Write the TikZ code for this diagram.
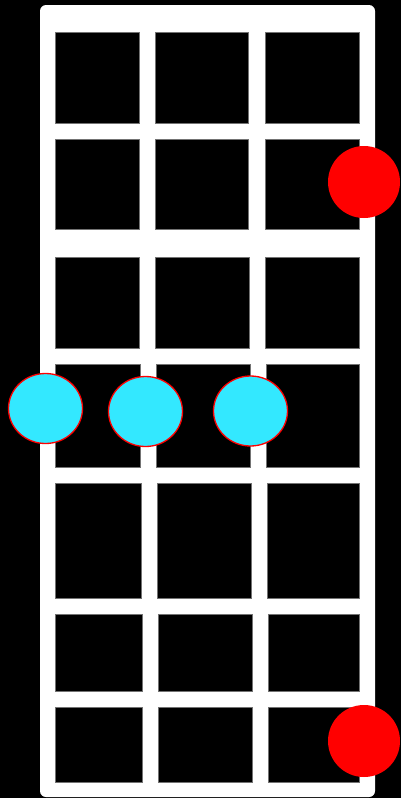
\documentclass[tikz,border=0pt]{standalone}
\usetikzlibrary{shapes.geometric}
\begin{document}
\begin{tikzpicture}[x=1pt,y=-1pt,
  cell/.style={fill=black,draw=black!55,line width=0.4pt},
  rootdot/.style={circle,fill=red,draw=none,minimum size=72pt,inner sep=0pt},
  notedot/.style={ellipse,fill={rgb,255:red,51;green,232;blue,255},draw=red,line width=1.3pt,minimum width=74pt,minimum height=70pt,inner sep=0pt}]
\useasboundingbox (0,0) rectangle (401,798);
\fill[black] (0,0) rectangle (401,798);
\fill[white,rounded corners=6pt] (40,5) rectangle (375,797);
% rows: top bottom, columns
\foreach \ya/\yb/\aa/\ab/\ba/\bb/\ca in {
  32/123/55/139/155/248.5/265,
  139/229/55/139/155/248.5/265,
  257/348/55/139.5/155.5/249/265.5,
  364/467/55/140/156/250/266,
  483/598/55/141/157/251/267,
  614/691/55/142/158/252/268,
  707/782/55/142/158/252/268}{
  \draw[cell] (\aa,\ya) rectangle (\ab,\yb);
  \draw[cell] (\ba,\ya) rectangle (\bb,\yb);
  \draw[cell] (\ca,\ya) rectangle (359,\yb);
}
\node[rootdot] (r1) at (364,182) {};
\node[rootdot] (r2) at (364,741) {};
\node[notedot] (n1) at (45.5,408.5) {};
\node[notedot] (n2) at (145.5,411.5) {};
\node[notedot] (n3) at (250.5,411) {};
\end{tikzpicture}
\end{document}
